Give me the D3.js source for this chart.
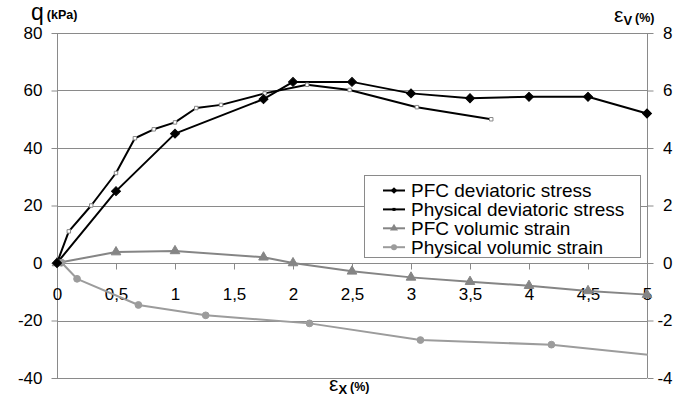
<!DOCTYPE html>
<html>
<head>
<meta charset="utf-8">
<style>
  body { margin: 0; background: #fff; }
  svg { display: block; font-family: "Liberation Sans", Arial, sans-serif; }
</style>
</head>
<body>
<script src="https://cdn.jsdelivr.net/npm/d3@7"></script>
<script>
  // PFC deviatoric stress (kPa) vs axial strain (%)
  var pfcX = [0, 0.5, 1, 1.75, 2, 2.5, 3, 3.5, 4, 4.5, 5];
  var pfcQ = [0, 25, 45, 57, 63, 63, 59, 57.3, 57.8, 57.8, 52];
  // PFC volumic strain (%) - right axis
  var pfcEv = [0, 0.38, 0.42, 0.2, 0, -0.29, -0.5, -0.65, -0.79, -0.97, -1.1];

  // Physical deviatoric stress
  var physQX = [0, 0.1, 0.29, 0.5, 0.66, 0.82, 1, 1.18, 1.39, 1.76, 2.12, 2.48, 3.05, 3.68];
  var physQ = [0, 11, 20, 31.3, 43.4, 46.5, 48.9, 53.9, 55, 59, 62, 60.2, 54.2, 50];

  // Physical volumic strain (%) - right axis
  var physEvX = [0, 0.04, 0.17, 0.69, 1.26, 2.14, 3.08, 4.19, 5.1];
  var physEv = [0, 0.01, -0.55, -1.46, -1.82, -2.1, -2.68, -2.84, -3.23];

  var xTicks = [0, 0.5, 1, 1.5, 2, 2.5, 3, 3.5, 4, 4.5, 5];
  var qTicks = [-40, -20, 0, 20, 40, 60, 80];
  var evTicks = [-4, -2, 0, 2, 4, 6, 8];

  var legendNames = ["PFC deviatoric stress", "Physical deviatoric stress", "PFC volumic strain", "Physical volumic strain"];

  var W = 700, H = 405;
  var pL = 57, pR = 647, pT = 33, pB = 378;
  var black = "#000", grayA = "#858585", grayB = "#9c9c9c", axisGray = "#8a8a8a";

  var x = d3.scaleLinear().domain([0, 5]).range([pL, pR]);
  var yL = d3.scaleLinear().domain([-40, 80]).range([pB, pT]);
  var yR = d3.scaleLinear().domain([-4, 8]).range([pB, pT]);
  var comma = d => String(d).replace(".", ",");

  var svg = d3.select("body").append("svg")
    .attr("width", W)
    .attr("height", H);

  svg.append("defs").append("clipPath").attr("id", "plot")
    .append("rect").attr("x", pL - 10).attr("y", pT - 10)
    .attr("width", pR - pL + 11).attr("height", pB - pT + 20);

  // gridlines
  svg.append("g").selectAll("line")
    .data(qTicks.filter(d => d !== 0))
    .enter().append("line")
    .attr("x1", pL).attr("x2", pR)
    .attr("y1", d => Math.round(yL(d)) + 0.5).attr("y2", d => Math.round(yL(d)) + 0.5)
    .attr("stroke", axisGray).attr("stroke-width", 1);

  // left axis
  var gL = svg.append("g")
    .attr("transform", "translate(" + (pL + 0.5) + ",0)")
    .call(d3.axisLeft(yL).tickValues(qTicks).tickSize(6).tickPadding(9).tickFormat(comma));

  // right axis
  var gR = svg.append("g")
    .attr("transform", "translate(" + (pR + 0.5) + ",0)")
    .call(d3.axisRight(yR).tickValues(evTicks).tickSize(6).tickPadding(9).tickFormat(comma));
  gR.selectAll("text").attr("text-anchor", "end").attr("x", 25);

  // x axis at zero
  var gX = svg.append("g")
    .attr("transform", "translate(0," + (Math.round(yL(0)) + 0.5) + ")")
    .call(d3.axisBottom(x).tickValues(xTicks).tickSize(6).tickPadding(18).tickFormat(comma));

  [gL, gR, gX].forEach(function (g) {
    g.selectAll(".domain").attr("stroke", axisGray);
    g.selectAll(".tick line").attr("stroke", axisGray);
    g.selectAll("text").attr("font-size", 17).attr("fill", "#000")
      .attr("font-family", "Liberation Sans, Arial, sans-serif");
  });
  gL.select(".domain").attr("d", "M0," + pT + "V" + pB);
  gR.select(".domain").attr("d", "M0," + pT + "V" + pB);
  gX.select(".domain").attr("d", "M" + pL + ",0H" + pR);

  // series
  var plot = svg.append("g");

  function series(xs, ys, y, color) {
    var pts = xs.map((d, i) => [x(d), y(ys[i]), d]);
    plot.append("path")
      .attr("d", d3.line()(pts))
      .attr("clip-path", "url(#plot)")
      .attr("fill", "none")
      .attr("stroke", color)
      .attr("stroke-width", 2)
      .attr("stroke-linejoin", "round");
    return pts.filter(p => p[2] <= 5);
  }

  var sym = {
    diamond: d3.symbol().type(d3.symbolSquare).size(40),
    triangle: d3.symbol().type(d3.symbolTriangle).size(40),
    circle: d3.symbol().type(d3.symbolCircle).size(36),
    square: d3.symbol().type(d3.symbolSquare).size(12)
  };

  function markers(pts, s, fill, stroke) {
    plot.append("g").selectAll("path")
      .data(pts)
      .enter().append("path")
      .attr("transform", d => "translate(" + d[0] + "," + d[1] + ")" + (s === "diamond" ? " rotate(45)" : ""))
      .attr("d", sym[s])
      .attr("fill", fill)
      .attr("stroke", stroke)
      .attr("stroke-width", 1);
  }

  var pPhysEv = series(physEvX, physEv, yR, grayB);
  var pPfcEv = series(pfcX, pfcEv, yR, grayA);
  var pPhysQ = series(physQX, physQ, yL, black);
  var pPfcQ = series(pfcX, pfcQ, yL, black);

  markers(pPhysEv, "circle", grayB, grayB);
  markers(pPfcEv, "triangle", grayA, grayA);
  markers(pPhysQ, "square", "#fff", "#888");
  markers(pPfcQ, "diamond", black, black);

  // legend
  var lg = svg.append("g");
  lg.append("rect")
    .attr("x", 364.5).attr("y", 175.5)
    .attr("width", 276).attr("height", 82)
    .attr("fill", "#fff").attr("stroke", axisGray);

  var legendStyle = [
    { color: black, t: d3.symbolSquare, size: 22, rot: 45 },
    { color: black, t: d3.symbolSquare, size: 9, rot: 0 },
    { color: grayA, t: d3.symbolTriangle, size: 28, rot: 0 },
    { color: grayB, t: d3.symbolCircle, size: 28, rot: 0 }
  ];

  legendNames.forEach(function (name, i) {
    var cy = 190.5 + i * 18.9;
    var st = legendStyle[i];
    lg.append("line")
      .attr("x1", 383).attr("x2", 405)
      .attr("y1", cy).attr("y2", cy)
      .attr("stroke", st.color).attr("stroke-width", 2);
    lg.append("path")
      .attr("transform", "translate(394," + cy + ") rotate(" + st.rot + ")")
      .attr("d", d3.symbol().type(st.t).size(st.size)())
      .attr("fill", st.color);
    lg.append("text")
      .attr("x", 411).attr("y", cy + 6.5)
      .attr("font-size", 19)
      .text(name);
  });

  // axis titles
  var tq = svg.append("text").attr("x", 31).attr("y", 20);
  tq.append("tspan").attr("font-size", 23).text("q");
  tq.append("tspan").attr("font-size", 12.5).attr("font-weight", "bold").attr("dx", 3).attr("dy", -1).text("(kPa)");

  var tv = svg.append("text").attr("x", 614).attr("y", 22);
  tv.append("tspan").attr("font-size", 21).text("\u03b5");
  tv.append("tspan").attr("font-size", 13).attr("font-weight", "bold").attr("dy", 3).text("V");
  tv.append("tspan").attr("font-size", 12.5).attr("font-weight", "bold").attr("dx", 3).attr("dy", -3).text("(%)");

  var tx = svg.append("text").attr("x", 329).attr("y", 391);
  tx.append("tspan").attr("font-size", 21).text("\u03b5");
  tx.append("tspan").attr("font-size", 13).attr("font-weight", "bold").attr("dy", 3).text("X");
  tx.append("tspan").attr("font-size", 12.5).attr("font-weight", "bold").attr("dx", 3).attr("dy", -3).text("(%)");
</script>
</body>
</html>
